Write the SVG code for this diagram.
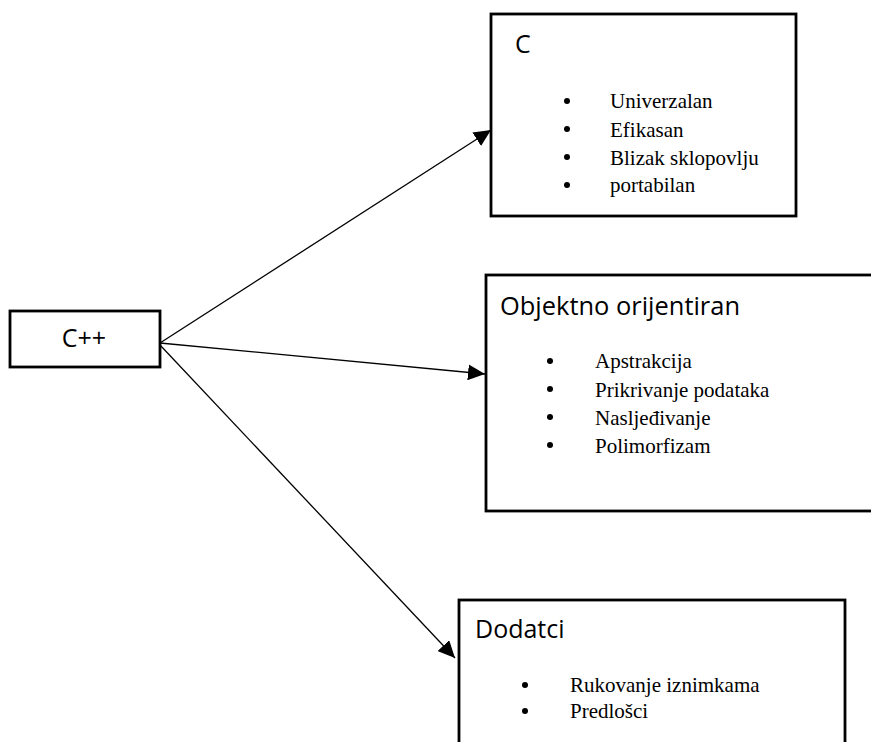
<svg xmlns="http://www.w3.org/2000/svg" width="871" height="742" viewBox="0 0 871 742">
<style>
.box{fill:#fff;stroke:#000;stroke-width:2.8}
.title{font-family:"Open Sans","Noto Sans",sans-serif;font-size:25px;fill:#000}
.item{font-family:"Liberation Serif","Times New Roman",serif;font-size:21px;fill:#000}
.conn{stroke:#000;stroke-width:1.3;fill:none;marker-end:url(#ah)}
</style>
<defs>
<marker id="ah" markerUnits="userSpaceOnUse" markerWidth="18" markerHeight="16" refX="17" refY="8" orient="auto">
<path d="M0,0 L17,8 L0,16 Z" fill="#000"/>
</marker>
</defs>
<rect width="871" height="742" fill="#fff"/>
<g id="connectors">
<line class="conn" x1="160" y1="343" x2="491" y2="130"/>
<line class="conn" x1="160" y1="343" x2="485" y2="374"/>
<line class="conn" x1="160" y1="345" x2="455" y2="658"/>
</g>
<g id="cpp">
<rect class="box" x="10" y="311" width="150" height="56"/>
<text class="title" x="84" y="347" text-anchor="middle">C++</text>
</g>
<g id="c">
<rect class="box" x="491" y="14" width="305" height="202"/>
<text class="title" x="515" y="53">C</text>
<circle cx="567" cy="101" r="3"/><text class="item" x="610" y="108">Univerzalan</text>
<circle cx="567" cy="129" r="3"/><text class="item" x="610" y="137">Efikasan</text>
<circle cx="567" cy="157" r="3"/><text class="item" x="610" y="165">Blizak sklopovlju</text>
<circle cx="567" cy="185" r="3"/><text class="item" x="610" y="192">portabilan</text>
</g>
<g id="oop">
<rect class="box" x="486" y="275" width="400" height="236"/>
<text class="title" x="500" y="315" textLength="240" lengthAdjust="spacingAndGlyphs">Objektno orijentiran</text>
<circle cx="550" cy="361" r="3"/><text class="item" x="595" y="368">Apstrakcija</text>
<circle cx="550" cy="389" r="3"/><text class="item" x="595" y="397">Prikrivanje podataka</text>
<circle cx="550" cy="417" r="3"/><text class="item" x="595" y="425">Nasljeđivanje</text>
<circle cx="550" cy="445" r="3"/><text class="item" x="595" y="453">Polimorfizam</text>
</g>
<g id="dodatci">
<rect class="box" x="459" y="600" width="386" height="160"/>
<text class="title" x="475" y="638">Dodatci</text>
<circle cx="525" cy="685" r="3"/><text class="item" x="570" y="692">Rukovanje iznimkama</text>
<circle cx="525" cy="711" r="3"/><text class="item" x="570" y="718">Predlošci</text>
</g>
</svg>
